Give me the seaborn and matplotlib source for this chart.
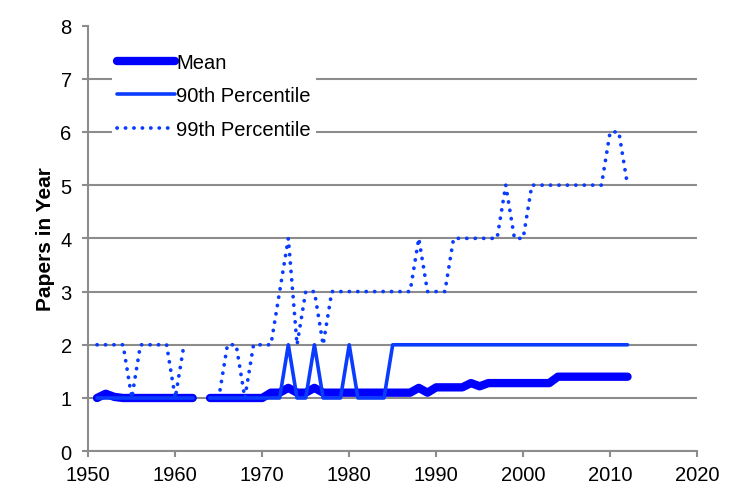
import numpy as np
import pandas as pd
import matplotlib
matplotlib.use("Agg")
import matplotlib.pyplot as plt
import seaborn as sns

years = list(range(1951, 2013))

# 1963 has no data at all, 1962 has no 99th percentile value
mean_papers = [1.0, 1.08, 1.02, 1.0, 1.0, 1.0, 1.0, 1.0, 1.0, 1.0,
               1.0, 1.0, np.nan, 1.0, 1.0, 1.0, 1.0, 1.0, 1.0, 1.0,
               1.1, 1.1, 1.19, 1.1, 1.1, 1.19, 1.1, 1.1, 1.1, 1.1,
               1.1, 1.1, 1.1, 1.1, 1.1, 1.1, 1.1, 1.19, 1.1, 1.2,
               1.2, 1.2, 1.2, 1.28, 1.22, 1.28, 1.28, 1.28, 1.28, 1.28,
               1.28, 1.28, 1.28, 1.4, 1.4, 1.4, 1.4, 1.4, 1.4, 1.4,
               1.4, 1.4]
p90_papers = [1, 1, 1, 1, 1, 1, 1, 1, 1, 1,
              1, 1, np.nan, 1, 1, 1, 1, 1, 1, 1,
              1, 1, 2, 1, 1, 2, 1, 1, 1, 2,
              1, 1, 1, 1, 2, 2, 2, 2, 2, 2,
              2, 2, 2, 2, 2, 2, 2, 2, 2, 2,
              2, 2, 2, 2, 2, 2, 2, 2, 2, 2,
              2, 2]
p99_papers = [2, 2, 2, 2, 1, 2, 2, 2, 2, 1,
              2, np.nan, np.nan, 1, 1, 2, 2, 1, 2, 2,
              2, 3, 4, 2, 3, 3, 2, 3, 3, 3,
              3, 3, 3, 3, 3, 3, 3, 4, 3, 3,
              3, 4, 4, 4, 4, 4, 4, 5, 4, 4,
              5, 5, 5, 5, 5, 5, 5, 5, 5, 6,
              6, 5]

df = pd.DataFrame({"year": years, "mean": mean_papers,
                   "p90": p90_papers, "p99": p99_papers})
# the missing year splits every series in two pieces
df["segment"] = (df["year"] > 1963).astype(int)

sns.set_theme(style="white")
plt.rcParams["font.family"] = ["Liberation Sans", "DejaVu Sans"]
plt.rcParams["text.color"] = "black"
plt.rcParams["axes.labelcolor"] = "black"

grey = "#8c8c8c"
fig = plt.figure(figsize=(7.47, 5.02), dpi=100)
ax = fig.add_axes([0.1182, 0.0992, 0.815, 0.848])

sns.lineplot(data=df, x="year", y="mean", units="segment", estimator=None,
             color="#0000ff", lw=6, solid_capstyle="round",
             solid_joinstyle="round", label="Mean", ax=ax, zorder=3)
sns.lineplot(data=df, x="year", y="p90", units="segment", estimator=None,
             color="#0a3cff", lw=2.6, solid_capstyle="round",
             solid_joinstyle="round", label="90th Percentile", ax=ax, zorder=4)
sns.lineplot(data=df, x="year", y="p99", units="segment", estimator=None,
             color="#0a3cff", lw=2.7, linestyle=(0, (0.05, 2.2)),
             dash_capstyle="round", label="99th Percentile", ax=ax, zorder=5)

ax.set_xlim(1950, 2020)
ax.set_ylim(0, 8)
ax.set_xticks(range(1950, 2021, 10))
ax.set_yticks(range(0, 9))
ax.set_xlabel("")
ax.set_ylabel("Papers in Year", fontsize=15, fontweight="bold", labelpad=4,
              color="black")

ax.set_axisbelow(True)
ax.yaxis.grid(True, color=grey, lw=1.5)
for gl in ax.get_ygridlines()[-1:]:
    gl.set_visible(False)
sns.despine(ax=ax)
for side in ["left", "bottom"]:
    ax.spines[side].set_color(grey)
    ax.spines[side].set_linewidth(1.5)
ax.tick_params(axis="both", which="major", direction="out", length=4,
               width=1.5, color=grey, labelsize=14.5, labelcolor="black")
ax.tick_params(axis="y", pad=8)
ax.tick_params(axis="x", pad=6)
ax.tick_params(left=True, bottom=True)

handles, labels = ax.get_legend_handles_labels()
uniq = dict(zip(labels, handles))
leg = ax.legend(uniq.values(), uniq.keys(), loc="upper left",
                bbox_to_anchor=(0.039, 0.948), borderaxespad=0,
                borderpad=0.25, handlelength=2.9, handletextpad=0.05,
                labelspacing=0.72, fontsize=14.5, frameon=True,
                fancybox=False, labelcolor="black")
leg.get_frame().set_facecolor("white")
leg.get_frame().set_edgecolor("none")
leg.get_frame().set_alpha(1)

fig.savefig("out.png", dpi=100)
